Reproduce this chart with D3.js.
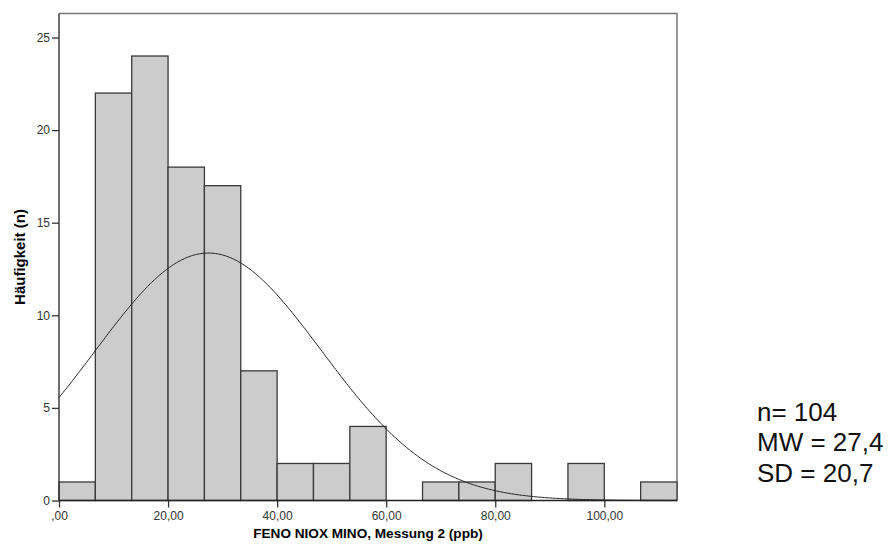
<!DOCTYPE html>
<html>
<head>
<meta charset="utf-8">
<script src="https://cdn.jsdelivr.net/npm/d3@7"></script>
<style>
  body { margin: 0; background: #fff; }
  svg { display: block; font-family: Arial, "Liberation Sans", sans-serif; }
</style>
</head>
<body>
<div id="chart"></div>
<script>
// histogram counts, 17 bins from 0 to 113.33
const binStart = 0
const binEnd = 113.33
const counts = [1, 22, 24, 18, 17, 7, 2, 2, 4, 0, 1, 1, 2, 0, 2, 0, 1]
const xTicks = [0, 20, 40, 60, 80, 100]
const xTickLabels = [",00", "20,00", "40,00", "60,00", "80,00", "100,00"]
const yTicks = [0, 5, 10, 15, 20, 25]
// fitted normal curve parameters
const nTotal = [104]
const meanVal = [27.4]
const sdVal = [20.7]
const statLines = ["n= 104", "MW = 27,4", "SD = 20,7"]

var width = 889
var height = 551
// plot box
const pLeft = 59, pRight = 677, pTop = 13.5, pBottom = 500.5

let svg = d3.select("#chart")
    .append("svg")
    .attr("width", width)
    .attr("height", height)

const x = d3.scaleLinear().domain([binStart, binEnd]).range([pLeft, pRight])
const y = d3.scaleLinear().domain([0, 25]).range([pBottom, 37.5])

const bw = (binEnd - binStart) / counts.length
const bins = counts.map((c, i) => ({x0: binStart + i * bw, x1: binStart + (i + 1) * bw, n: c}))

// frame (top and right)
svg.append("path")
    .attr("d", `M${pLeft},${pTop} H${pRight} V${pBottom}`)
    .attr("fill", "none")
    .attr("stroke", "#777")
    .attr("stroke-width", 1.5)

// bars
svg.selectAll("rect.bar")
    .data(bins.filter(d => d.n > 0))
    .join("rect")
    .attr("class", "bar")
    .attr("x", d => x(d.x0))
    .attr("y", d => y(d.n))
    .attr("width", d => x(d.x1) - x(d.x0))
    .attr("height", d => y(0) - y(d.n))
    .attr("fill", "#cccccc")
    .attr("stroke", "#3a3a3a")
    .attr("stroke-width", 1.3)

// normal curve
const scaleN = nTotal[0] * bw
const dens = v => scaleN / (sdVal[0] * Math.sqrt(2 * Math.PI)) *
    Math.exp(-0.5 * Math.pow((v - meanVal[0]) / sdVal[0], 2))
const curvePts = d3.range(binStart, binEnd + 0.001, 0.25).map(v => [v, dens(v)])
svg.append("path")
    .datum(curvePts)
    .attr("d", d3.line().x(d => x(d[0])).y(d => y(d[1])).curve(d3.curveBasis))
    .attr("fill", "none")
    .attr("stroke", "#222")
    .attr("stroke-width", 1)

// axes
svg.append("g")
    .attr("transform", `translate(${pLeft},0)`)
    .call(d3.axisLeft(y).tickValues(yTicks).tickSize(7).tickPadding(2))
svg.append("g")
    .attr("transform", `translate(0,${pBottom})`)
    .call(d3.axisBottom(x).tickValues(xTicks).tickSize(7).tickPadding(4)
        .tickFormat((d, i) => xTickLabels[i]))

svg.selectAll(".domain").remove()
svg.selectAll(".tick line").attr("stroke", "#333").attr("stroke-width", 1.3)
svg.selectAll(".tick text").attr("fill", "#333").style("font-size", "12px")
    .style("font-family", "Arial, 'Liberation Sans', sans-serif")

// axis lines
svg.append("line").attr("x1", pLeft).attr("x2", pLeft).attr("y1", pTop).attr("y2", pBottom)
    .attr("stroke", "#333").attr("stroke-width", 1.4)
svg.append("line").attr("x1", pLeft).attr("x2", pRight).attr("y1", pBottom).attr("y2", pBottom)
    .attr("stroke", "#222").attr("stroke-width", 1.4)

// titles
svg.append("text")
    .attr("x", (pLeft + pRight) / 2)
    .attr("y", 538)
    .attr("text-anchor", "middle")
    .style("font-size", "13.6px")
    .style("font-weight", "bold")
    .text("FENO NIOX MINO, Messung 2 (ppb)")

svg.append("text")
    .attr("transform", `translate(25,${(pTop + pBottom) / 2}) rotate(-90)`)
    .attr("text-anchor", "middle")
    .style("font-size", "15px")
    .style("font-weight", "bold")
    .text("Häufigkeit (n)")

// stats box
svg.selectAll("text.stat")
    .data(statLines)
    .join("text")
    .attr("class", "stat")
    .attr("x", 757)
    .attr("y", (d, i) => 421 + i * 30.3)
    .style("font-size", "26px")
    .attr("fill", "#111")
    .text(d => d)
</script>
</body>
</html>
